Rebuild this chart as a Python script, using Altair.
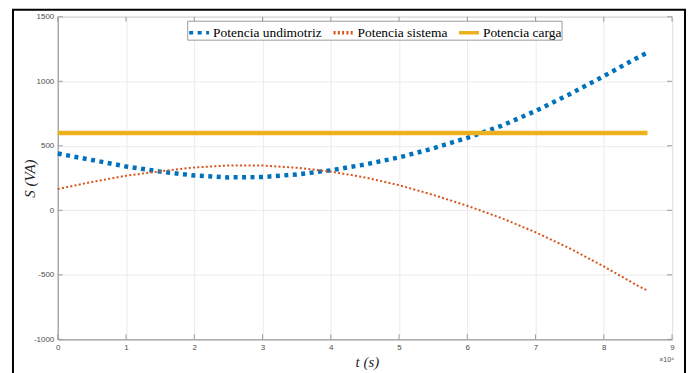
import altair as alt
import pandas as pd

# --- data (time in units of 10^4 s) ---
t_vals = [0, 0.5, 1, 1.5, 2, 2.5, 3, 3.5, 4, 4.5, 5, 5.5, 6, 6.5, 7, 7.5, 8, 8.5, 8.64]
p_undimotriz = [440, 390, 340, 300, 270, 255, 258, 278, 310, 355, 410, 480, 562, 655, 770, 900, 1040, 1185, 1222]
p_sistema = [165, 220, 268, 303, 332, 347, 347, 330, 300, 255, 195, 120, 35, -60, -170, -295, -435, -585, -622]
t_carga = [0, 8.64]
p_carga = [600, 600]

series_names = ["Potencia undimotriz", "Potencia sistema", "Potencia carga"]
series_colors = ["#0072BD", "#D95319", "#EDB120"]
series_dash = [[4, 4.5], [2, 2.3], [1, 0]]
series_width = [4.5, 2, 4.5]

x_ticks = [0, 1, 2, 3, 4, 5, 6, 7, 8, 9]
y_ticks = [-1000, -500, 0, 500, 1000, 1500]

W, H = 617, 324

rows = []
for t, v in zip(t_vals, p_undimotriz):
    rows.append({"serie": series_names[0], "t": t, "S": v, "w": series_width[0]})
for t, v in zip(t_vals, p_sistema):
    rows.append({"serie": series_names[1], "t": t, "S": v, "w": series_width[1]})
for t, v in zip(t_carga, p_carga):
    rows.append({"serie": series_names[2], "t": t, "S": v, "w": series_width[2]})
df = pd.DataFrame(rows)

xscale = alt.Scale(domain=[0, 9], nice=False, zero=False)
yscale = alt.Scale(domain=[-1000, 1500], nice=False, zero=False)

lab = dict(labelFont="Liberation Sans", labelFontSize=8, labelColor="#4d4d4d",
           ticks=False, domainColor="#9a9a9a", domainWidth=1,
           gridColor="#ebebeb", gridWidth=1, labelPadding=4,
           titleFont="Liberation Serif", titleFontSize=15, titleFontStyle="italic",
           titleFontWeight="normal", titleColor="#262626", labelFlush=False,
           labelExpr="'' + datum.value")

x_axis = alt.Axis(values=x_ticks, title="t (s)", titleX=W / 2 + 2, titleY=22,
                  titleBaseline="middle", titleAlign="center", **lab)
y_axis = alt.Axis(values=y_ticks, title="S (VA)", titleX=-28, titleY=H / 2,
                  titleAngle=-90, titleBaseline="middle", titleAlign="center", **lab)

lines = alt.Chart(df).mark_line(strokeCap="butt").encode(
    x=alt.X("t:Q", scale=xscale, axis=x_axis),
    y=alt.Y("S:Q", scale=yscale, axis=y_axis),
    color=alt.Color("serie:N", scale=alt.Scale(domain=series_names, range=series_colors),
                    title=None),
    strokeDash=alt.StrokeDash("serie:N", scale=alt.Scale(domain=series_names, range=series_dash),
                              title=None),
    strokeWidth=alt.StrokeWidth("w:Q", scale=None),
    order="t:Q",
)

xt = pd.DataFrame({"t": x_ticks})
yt = pd.DataFrame({"S": y_ticks})
tick_style = dict(color="#9a9a9a", strokeWidth=1)
xb = alt.Chart(xt).mark_rule(**tick_style).encode(
    x=alt.X("t:Q", scale=xscale, axis=x_axis), y=alt.value(H), y2=alt.value(H - 5))
xtp = alt.Chart(xt).mark_rule(**tick_style).encode(
    x=alt.X("t:Q", scale=xscale, axis=x_axis), y=alt.value(0), y2=alt.value(5))
yl = alt.Chart(yt).mark_rule(**tick_style).encode(
    y=alt.Y("S:Q", scale=yscale, axis=y_axis), x=alt.value(0), x2=alt.value(5))
yr = alt.Chart(yt).mark_rule(**tick_style).encode(
    y=alt.Y("S:Q", scale=yscale, axis=y_axis), x=alt.value(W), x2=alt.value(W - 5))

one = pd.DataFrame({"a": [0]})
exp_txt = alt.Chart(one).mark_text(text="×10⁴", font="Liberation Sans", fontSize=7,
                                   color="#4d4d4d", align="right", baseline="middle").encode(
    x=alt.value(W + 2), y=alt.value(H + 21))
frame = alt.Chart(one).mark_rect(fillOpacity=0, stroke="black", strokeWidth=2).encode(
    x=alt.value(-45), x2=alt.value(W + 13), y=alt.value(-7), y2=alt.value(H + 80))

chart = alt.layer(lines, xb, xtp, yl, yr, exp_txt, frame).properties(
    width=W, height=H,
    autosize=alt.AutoSizeParams(type="none"),
    padding={"left": 50, "top": 8, "right": 16, "bottom": 36},
    background="white",
).configure_view(stroke="#9a9a9a", strokeWidth=1).configure_legend(
    orient="none", legendX=130, legendY=4, direction="horizontal",
    fillColor="white", strokeColor="#9a9a9a", padding=0,
    labelFont="Liberation Serif", labelFontSize=13.5, labelColor="black",
    symbolType="stroke", symbolSize=400, symbolStrokeWidth=3.5, labelOffset=2,
    columnPadding=4, labelLimit=300,
)

chart.save("out.html", embed_options={"renderer": "svg", "actions": False})
